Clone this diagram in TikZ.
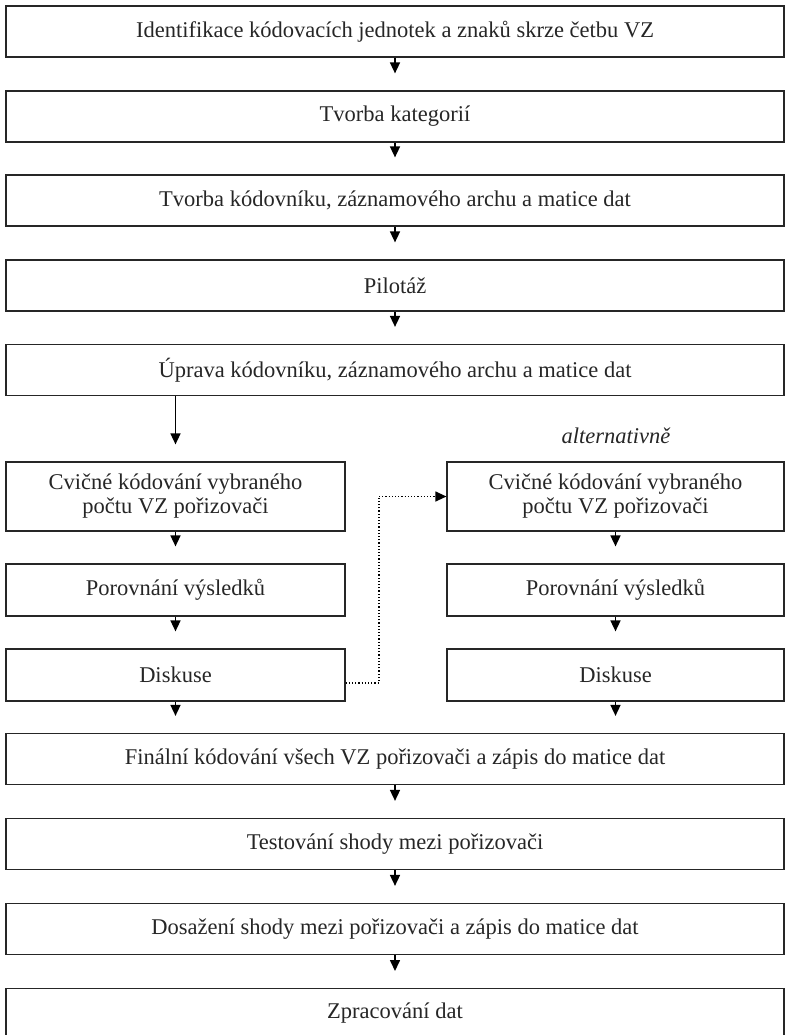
\documentclass[tikz,border=0pt]{standalone}
\usepackage{fontspec}
\setmainfont{Liberation Serif}
\usetikzlibrary{arrows.meta}
\begin{document}
\begin{tikzpicture}[x=1pt,y=-1pt,
  txt/.style={font=\fontsize{22.5}{24}\selectfont, text=black!85},
  box/.style={txt, draw=black!85, line width=1.2pt, inner sep=0pt, align=center},
  wide/.style={box, minimum width=778pt, minimum height=51pt},
  col/.style={box, minimum width=339pt, minimum height=52pt},
  arr/.style={line width=1.6pt, -{Triangle[width=10pt,length=11pt]}, shorten >=17pt},
  dotline/.style={line width=1.2pt, dotted}
]
\useasboundingbox (0,0) rectangle (785,1035);
\node[wide] (b1) at (395,31.5) {Identifikace kódovacích jednotek a znaků skrze četbu VZ};
\node[wide] (b2) at (395,116.5) {Tvorba kategorií};
\node[wide] (b3) at (395,200.5) {Tvorba kódovníku, záznamového archu a matice dat};
\node[wide] (b4) at (395,285.5) {Pilotáž};
\node[wide] (b5) at (395,370) {Úprava kódovníku, záznamového archu a matice dat};
\node[col, minimum height=69pt] (c1) at (175.5,496.5) {Cvičné kódování vybraného\\počtu VZ pořizovači};
\node[col] (p1) at (175.5,590) {Porovnání výsledků};
\node[col] (d1) at (175.5,675) {Diskuse};
\node[col, minimum width=337pt, minimum height=69pt] (c2) at (615.5,496.5) {Cvičné kódování vybraného\\počtu VZ pořizovači};
\node[col, minimum width=337pt] (p2) at (615.5,590) {Porovnání výsledků};
\node[col, minimum width=337pt] (d2) at (615.5,675) {Diskuse};
\node[txt, font=\fontsize{22.5}{24}\selectfont\itshape] (alt) at (616,436) {alternativně};
\node[wide] (f1) at (395,759) {Finální kódování všech VZ pořizovači a zápis do matice dat};
\node[wide] (t1) at (395,844) {Testování shody mezi pořizovači};
\node[wide] (s1) at (395,929) {Dosažení shody mezi pořizovači a zápis do matice dat};
\node[wide, minimum height=50pt, anchor=north] (z1) at (395,988) {};
\node[txt] (zt) at (395,1013) {Zpracování dat};
\draw[arr] (b1) -- (b2);
\draw[arr] (b2) -- (b3);
\draw[arr] (b3) -- (b4);
\draw[arr] (b4) -- (b5);
\draw[arr] (b5.south -| c1.north) -- (c1.north);
\draw[arr] (c1) -- (p1);
\draw[arr] (p1) -- (d1);
\draw[arr] (d1.south) -- (d1.south |- f1.north);
\draw[arr] (c2) -- (p2);
\draw[arr] (p2) -- (d2);
\draw[arr] (d2.south) -- (d2.south |- f1.north);
\draw[arr] (f1) -- (t1);
\draw[arr] (t1) -- (s1);
\draw[arr] (s1) -- (z1);
\coordinate (corner) at (379,683);
\draw[dotline] ([yshift=-8pt]d1.east) -- ([yshift=-8pt]d1.east -| corner) -- (corner |- c2.west);
\draw[dotline, -{Triangle[width=10pt,length=11pt]}] (corner |- c2.west) -- (c2.west);
\end{tikzpicture}
\end{document}
